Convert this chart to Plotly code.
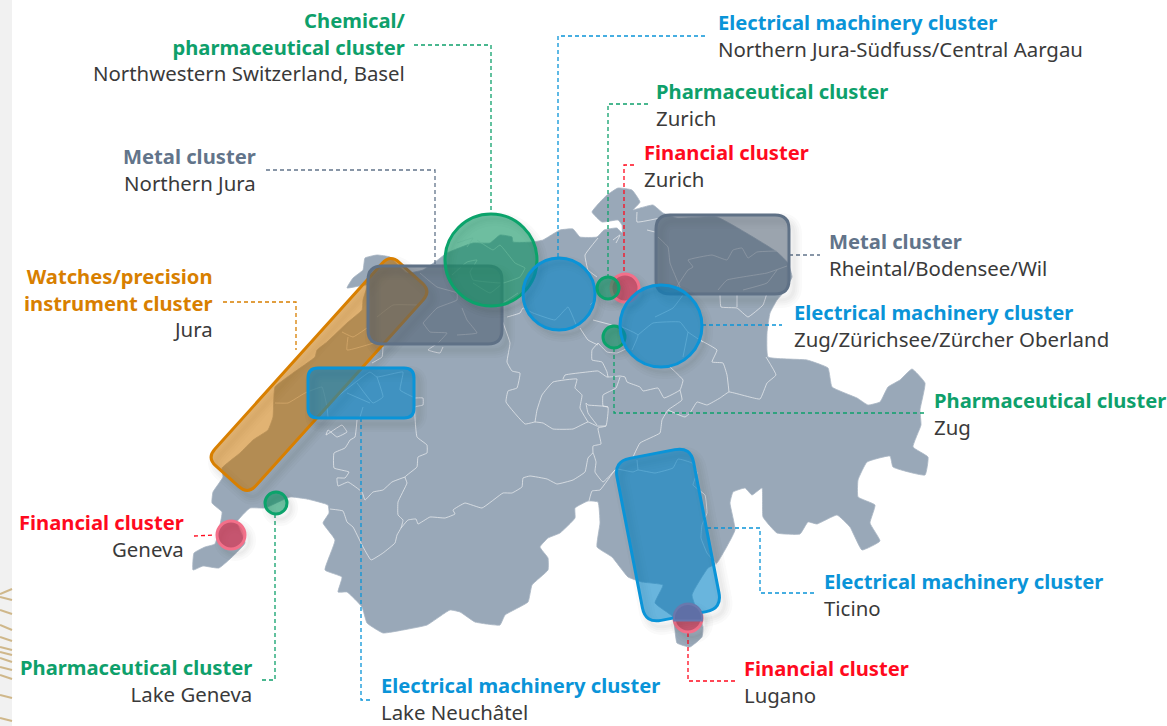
import numpy as np
import plotly.graph_objects as go

LAND = [(193,570),(194,553),(205,547),(215,544),(220,525),(222,512),(212,503),(213,492),(223,477),(222,468),(240,453),(253,440),(268,430),(273,417),(275,387),(293,373),(315,357),(317,350),(327,342),(347,323),(362,310),(363,300),(367,285),(347,288),(353,278),(363,270),(365,258),(377,255),(390,257),(407,273),(423,270),(435,262),(447,253),(473,243),(490,243),(500,235),(512,237),(513,242),(533,242),(543,240),(560,230),(573,229),(580,237),(597,237),(604,230),(617,228),(622,233),(622,225),(618,220),(602,222),(592,212),(600,202),(607,195),(618,188),(632,190),(640,202),(633,210),(640,208),(653,205),(663,213),(677,218),(717,217),(777,252),(788,263),(792,277),(783,293),(777,300),(770,313),(767,333),(768,357),(807,360),(828,368),(832,387),(857,398),(868,405),(880,402),(888,387),(900,380),(912,369),(925,383),(920,410),(921,425),(913,447),(928,457),(925,475),(893,467),(890,456),(867,462),(858,480),(858,497),(875,505),(870,523),(880,541),(862,550),(850,527),(837,515),(817,524),(808,522),(800,534),(777,533),(763,517),(762,488),(752,495),(745,488),(733,492),(730,503),(735,530),(717,563),(708,568),(692,595),(703,627),(702,637),(690,647),(677,643),(673,617),(655,603),(663,585),(642,582),(628,577),(612,557),(597,547),(600,523),(598,502),(588,501),(575,508),(575,518),(560,533),(548,538),(540,547),(548,558),(548,570),(532,585),(528,602),(505,615),(500,625),(475,622),(460,612),(450,610),(427,625),(403,630),(383,633),(367,623),(362,607),(347,592),(338,592),(342,577),(325,570),(335,540),(323,523),(329,513),(328,505),(307,499),(290,497),(265,508),(250,508),(237,522),(245,543),(219,568),(203,566),(193,570)]

BORDERS = [
 [(350,440),(345,448),(334,453),(334,468),(349,472),(345,478),(337,478),(338,486),(348,482),(362,492),(365,500),(373,492),(383,490),(392,482),(405,477)],
 [(415,398),(423,398),(423,405),(415,407),(417,437),(427,445),(427,453),(418,457),(417,467),(405,477),(407,483),(398,502),(398,515),(403,520),(401,528),(397,535),(395,543),(383,553),(371,560),(362,545),(353,527),(347,522),(343,511),(330,509)],
 [(401,528),(408,520),(416,519),(418,524),(430,517),(445,518),(455,514),(453,510),(465,503),(482,508),(503,493),(512,493),(522,487),(523,478),(530,476),(547,479),(557,484),(573,480),(585,472),(588,458),(593,453),(596,462),(595,472),(603,482),(615,470)],
 [(589,501),(592,491),(600,490),(615,470),(617,469),(633,472),(638,470),(655,473),(673,468),(678,459),(692,463),(697,473),(693,485),(705,495),(707,513),(702,525),(701,538),(707,553),(717,565)],
 [(637,460),(638,470)],
 [(593,453),(593,446),(601,444),(598,428),(606,426),(608,407),(588,405),(586,403),(588,413),(597,425)],
 [(502,320),(510,343),(507,362),(512,371),(520,373),(517,388),(508,391),(506,402),(525,424),(535,422),(543,423),(553,429),(573,429),(588,422),(597,426),(606,426)],
 [(535,422),(537,410),(542,395),(553,382),(577,379),(575,388),(582,395),(580,408),(588,422)],
 [(563,379),(565,375),(587,372),(598,371),(607,377),(620,376),(625,377),(627,382),(640,387),(643,391),(658,388),(664,398),(680,390),(683,380),(670,367)],
 [(620,377),(616,388),(603,395),(603,406),(608,407)],
 [(598,343),(592,350),(592,360),(602,362),(607,372),(608,377)],
 [(598,343),(607,352),(617,353),(628,348)],
 [(680,390),(682,400),(668,410),(662,420),(660,433),(640,443),(633,457)],
 [(668,410),(685,417),(690,413),(697,402),(707,405),(720,398),(729,392),(760,399),(767,383),(776,375),(766,357)],
 [(729,392),(727,375),(723,363),(712,362),(717,350),(700,340)],
 [(658,237),(668,247),(670,263),(677,280),(680,287),(677,287),(688,270),(693,267),(688,260),(712,255),(727,260),(733,250),(742,248),(748,258),(757,252),(777,251)],
 [(718,290),(727,280),(767,273),(787,266)],
 [(743,290),(767,283),(777,270)],
 [(720,295),(721,307),(737,308),(748,317),(763,305),(767,293)],
 [(737,295),(737,307)],
 [(637,212),(637,222),(660,218)],
 [(647,230),(655,232)],
 [(613,240),(620,235),(616,243)],
 [(598,238),(585,255),(588,270),(597,277)],
 [(595,300),(590,305)],
 [(580,328),(588,340),(598,345)],
 [(593,320),(612,325)],
 [(507,317),(520,313),(523,308),(533,313),(555,320),(568,307),(577,327)],
 [(638,335),(653,323),(680,322),(688,332),(703,342)],
 [(688,332),(683,357)],
 [(655,317),(673,308),(683,295)],
 [(622,327),(638,335),(632,350)],
 [(342,332),(353,337),(367,328)],
 [(348,337),(347,350),(377,342)],
 [(275,403),(288,403),(305,393),(322,387),(327,407),(328,417)],
 [(337,397),(370,372),(377,377),(403,372),(400,390),(413,397)],
 [(377,377),(383,397),(373,403),(357,383)],
 [(370,403),(347,393)],
 [(363,407),(360,417)],
 [(328,430),(326,435),(342,425),(347,432),(337,437),(328,430)],
 [(357,420),(355,437),(350,440)],
 [(372,363),(382,357),(383,347)],
 [(377,317),(393,305),(417,305)],
 [(423,323),(437,308),(457,300),(457,293),(437,287),(420,273)],
 [(423,323),(430,332),(447,333),(438,343),(428,350),(440,353),(443,347)],
 [(462,308),(467,320),(477,333),(457,335)],
 [(457,243),(473,238),(467,247)],
 [(477,240),(493,250),(500,245),(515,263),(525,268),(520,277),(503,283),(473,280),(470,272),(477,260),(467,262),(452,275)],
 [(473,283),(490,293),(503,283)],
 [(503,303),(518,293)],
]

STRIP_Y0 = [594,597,610,625,637,647,652,658,667,675,695,718]
STRIP_Y1 = [589,600,614,630,641,650,655,662,670,679,698,721]

BIG_GREEN = (491,260,46)
BLUE_A = (559,294,36)
BLUE_B = (661,326,41)
SMALL_GREEN = [(608,288,11),(614,337,11),(276,503,11)]
SMALL_RED = [(625,288,14),(231,535,14),(688,618,14)]

GREY_A = (368,266,502,344,14)
GREY_B = (656,215,789,294,14)
BLUE_RECT = (308,368,414,418,10)
ORANGE_CAP = (319,374.5,274,55,-48,12)
BLUE_CAP = (668,535,78,165,-11,16)

COLORS = {"green":"#0ea06b","blue":"#0a94d8","red":"#ff0a1e","grey":"#62748a","orange":"#d87f00","dark":"#3a3a3a"}
LEADERS = [
 ("green",[414,491,491],[45,45,214]),
 ("grey",[266,435,435],[170,170,266]),
 ("orange",[223,296,296],[302,302,350]),
 ("blue",[705,558,558],[36,36,258]),
 ("green",[648,608,608],[104,104,277]),
 ("red",[634,624,624],[165,165,273]),
 ("grey",[789,820],[255,255]),
 ("blue",[702,782],[325,325]),
 ("green",[614,614,924],[348,413,413]),
 ("blue",[707,760,760,815],[528,528,593,593]),
 ("red",[688,688,735],[633,681,681]),
 ("blue",[361,361,372],[418,700,700]),
 ("green",[275,275,262],[514,680,680]),
 ("red",[194,215],[536,535]),
]
LABELS = [
 (405,21,"right","Chemical/","green"),
 (405,47,"right","pharmaceutical cluster","green"),
 (405,73,"right","Northwestern Switzerland, Basel","dark"),
 (256,157,"right","Metal cluster","grey"),
 (256,183,"right","Northern Jura","dark"),
 (213,278,"right","Watches/precision","orange"),
 (213,303,"right","instrument cluster","orange"),
 (213,329,"right","Jura","dark"),
 (718,24,"left","Electrical machinery cluster","blue"),
 (718,49,"left","Northern Jura-Südfuss/Central Aargau","dark"),
 (656,92,"left","Pharmaceutical cluster","green"),
 (656,118,"left","Zurich","dark"),
 (644,153,"left","Financial cluster","red"),
 (644,179,"left","Zurich","dark"),
 (829,243,"left","Metal cluster","grey"),
 (829,268,"left","Rheintal/Bodensee/Wil","dark"),
 (794,314,"left","Electrical machinery cluster","blue"),
 (794,339,"left","Zug/Zürichsee/Zürcher Oberland","dark"),
 (934,402,"left","Pharmaceutical cluster","green"),
 (934,427,"left","Zug","dark"),
 (824,582,"left","Electrical machinery cluster","blue"),
 (824,608,"left","Ticino","dark"),
 (744,669,"left","Financial cluster","red"),
 (744,695,"left","Lugano","dark"),
 (381,687,"left","Electrical machinery cluster","blue"),
 (381,711,"left","Lake Neuchâtel","dark"),
 (252,668,"right","Pharmaceutical cluster","green"),
 (252,694,"right","Lake Geneva","dark"),
 (184,524,"right","Financial cluster","red"),
 (184,549,"right","Geneva","dark"),
]

FONT = "'Noto Sans', sans-serif"
FS = 20.4
FS_BOLD = 20.2

def rounded_path(corners, r):
    n = len(corners); out = []
    for i in range(n):
        p = np.array(corners[i], float)
        a = np.array(corners[i-1], float); b = np.array(corners[(i+1) % n], float)
        s = p + (a-p)/np.linalg.norm(a-p)*r
        e = p + (b-p)/np.linalg.norm(b-p)*r
        out.append(f"{'M' if i == 0 else 'L'} {s[0]:.2f} {s[1]:.2f} Q {p[0]:.2f} {p[1]:.2f} {e[0]:.2f} {e[1]:.2f}")
    return " ".join(out) + " Z"

def rect_corners(x0, y0, x1, y1):
    return [(x0,y0),(x1,y0),(x1,y1),(x0,y1)]

def rot_corners(cx, cy, L, W, ang):
    t = np.radians(ang); u = np.array([np.cos(t),np.sin(t)]); v = np.array([-np.sin(t),np.cos(t)])
    c = np.array([cx,cy])
    return [tuple(c+sx*L/2*u+sy*W/2*v) for sx,sy in [(-1,-1),(1,-1),(1,1),(-1,1)]]

shapes = []
def shadow_path(corners, r):
    moved = [(x+5, y+6) for x, y in corners]
    for w in (16, 11, 7, 3):
        shapes.append(dict(type="path", path=rounded_path(moved, r), xref="x", yref="y",
                           line=dict(color="rgba(40,50,60,0.022)", width=w), fillcolor="rgba(0,0,0,0)", layer="above"))
def shadow_circle(c):
    x, y, r = c
    for w in (14, 9, 5, 2):
        shapes.append(dict(type="circle", x0=x-r+4, x1=x+r+4, y0=y-r+5, y1=y+r+5, xref="x", yref="y",
                           line=dict(color="rgba(40,50,60,0.022)", width=w), fillcolor="rgba(0,0,0,0)", layer="above"))
def add_round(corners, r, fill, stroke, w=3):
    shadow_path(corners, r)
    shapes.append(dict(type="path", path=rounded_path(corners, r), xref="x", yref="y",
                       fillcolor=fill, line=dict(color=stroke, width=w), layer="above"))
def add_circle(c, fill, stroke, w=3):
    shadow_circle(c)
    x, y, r = c
    shapes.append(dict(type="circle", x0=x-r, x1=x+r, y0=y-r, y1=y+r, xref="x", yref="y",
                       fillcolor=fill, line=dict(color=stroke, width=w), layer="above"))

F_GREEN = "rgba(13,147,97,0.6)"; S_GREEN = "#0ba36b"
F_BLUE = "rgba(5,132,198,0.6)"; S_BLUE = "#0a94d8"
F_GREY = "rgba(77,92,110,0.56)"; S_GREY = "#5f7186"
F_ORANGE = "rgba(200,116,0,0.55)"; S_ORANGE = "#d87f00"
F_RED = "rgba(215,50,80,0.7)"; S_RED = "#f3708a"

add_round(rot_corners(*ORANGE_CAP[:5]), ORANGE_CAP[5], F_ORANGE, S_ORANGE)
add_round(rect_corners(*GREY_A[:4]), GREY_A[4], F_GREY, S_GREY)
add_round(rect_corners(*GREY_B[:4]), GREY_B[4], F_GREY, S_GREY)
add_round(rect_corners(*BLUE_RECT[:4]), BLUE_RECT[4], F_BLUE, S_BLUE)
add_circle(BIG_GREEN, F_GREEN, S_GREEN)
add_circle(BLUE_A, F_BLUE, S_BLUE)
add_circle(SMALL_RED[0], F_RED, S_RED)
add_circle(SMALL_RED[1], F_RED, S_RED)
add_circle(SMALL_GREEN[0], F_GREEN, S_GREEN)
add_circle(SMALL_GREEN[1], F_GREEN, S_GREEN)
add_circle(SMALL_GREEN[2], F_GREEN, S_GREEN)
add_circle(BLUE_B, F_BLUE, S_BLUE)
add_circle(SMALL_RED[2], F_RED, S_RED)
add_round(rot_corners(*BLUE_CAP[:5]), BLUE_CAP[5], F_BLUE, S_BLUE)

# the part of the Lugano disc that lies under the Ticino box turns violet
_x, _y, _r = SMALL_RED[2]
_ang = np.radians(np.linspace(-190, 10, 24))
_cap = "M " + " L ".join(f"{_x+_r*np.cos(a):.1f} {_y+_r*np.sin(a):.1f}" for a in _ang) + " Z"
shapes.append(dict(type="path", path=_cap, xref="x", yref="y", fillcolor="#5f6fa6", line=dict(color="#6a78ad", width=2), layer="above"))

fig = go.Figure()
fig.add_trace(go.Scatter(x=[0,12,12,0,0], y=[0,0,726,726,0], mode="lines", fill="toself",
                         fillcolor="#f1f1f1", line=dict(width=0), hoverinfo="skip"))
for y0, y1 in zip(STRIP_Y0, STRIP_Y1):
    fig.add_trace(go.Scatter(x=[0,12], y=[y0,y1], mode="lines", line=dict(color="rgba(201,173,120,0.85)", width=2), hoverinfo="skip"))
fig.add_trace(go.Scatter(x=[p[0] for p in LAND], y=[p[1] for p in LAND], mode="lines", fill="toself",
                         fillcolor="#99a8b8", line=dict(width=0.8, color="#a8b5c3", shape="spline", smoothing=0.35), hoverinfo="skip"))
bx, by = [], []
for line in BORDERS:
    bx += [p[0] for p in line] + [None]
    by += [p[1] for p in line] + [None]
fig.add_trace(go.Scatter(x=bx, y=by, mode="lines", line=dict(color="rgba(232,235,238,0.75)", width=1, shape="spline", smoothing=0.3), hoverinfo="skip"))
for color, xs, ys in LEADERS:
    fig.add_trace(go.Scatter(x=xs, y=ys, mode="lines", line=dict(color=COLORS[color], width=1.3, dash="4px,3px"), hoverinfo="skip"))

# consecutive lines of one label become one multi-line annotation
blocks = []
for x, y, anchor, text, kind in LABELS:
    if blocks and blocks[-1]["x"] == x and blocks[-1]["anchor"] == anchor and y - blocks[-1]["ys"][-1] < 30:
        blocks[-1]["ys"].append(y); blocks[-1]["lines"].append((text, kind))
    else:
        blocks.append(dict(x=x, anchor=anchor, ys=[y], lines=[(text, kind)]))

def line_html(text, kind):
    if kind == "dark":
        return f'<span style="color:{COLORS[kind]}">{text}</span>'
    return f'<b><span style="color:{COLORS[kind]};font-size:{FS_BOLD}px">{text}</span></b>'

annotations = []
for b in blocks:
    annotations.append(dict(x=b["x"] + (2 if b["anchor"] == "right" else -2), y=sum(b["ys"]) / len(b["ys"]) - 1,
                            xref="x", yref="y", showarrow=False, xanchor=b["anchor"], yanchor="middle", align=b["anchor"],
                            text="<br>".join(line_html(t, k) for t, k in b["lines"]),
                            font=dict(family=FONT, size=FS, color=COLORS["dark"])))

fig.update_layout(width=1167, height=726, margin=dict(l=0,r=0,t=0,b=0), paper_bgcolor="white", plot_bgcolor="white",
                  showlegend=False, shapes=shapes, annotations=annotations,
                  xaxis=dict(range=[0,1167], visible=False, fixedrange=True),
                  yaxis=dict(range=[726,0], visible=False, fixedrange=True))
fig.write_html("out.html", config={"displayModeBar": False},
               post_script="document.body.style.margin='0';document.body.style.overflow='hidden';")
